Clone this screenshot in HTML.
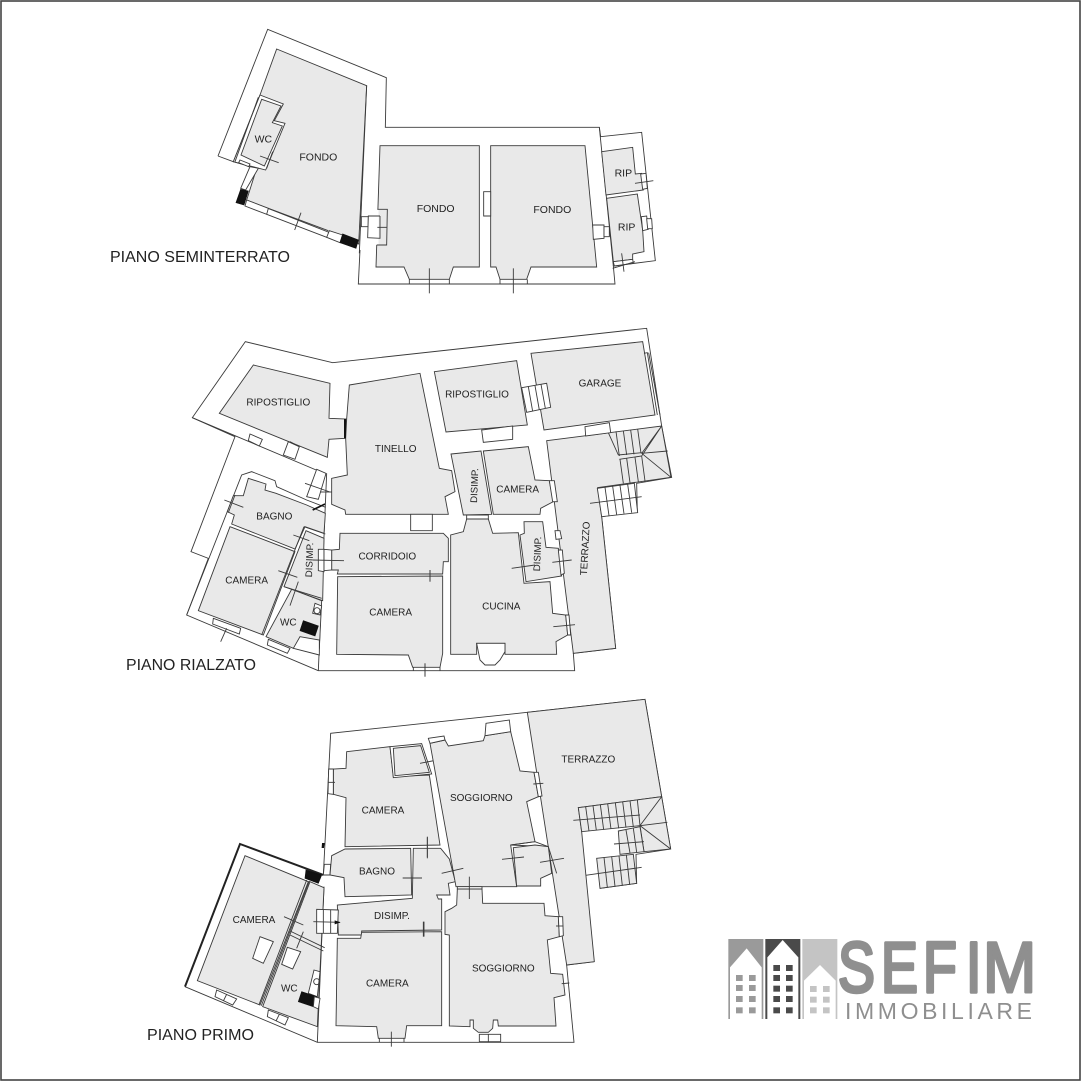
<!DOCTYPE html>
<html><head><meta charset="utf-8"><style>
html,body{margin:0;padding:0;background:#fff;width:1081px;height:1081px;overflow:hidden}
svg{display:block}
.r{fill:#e9e9e9;stroke:#3a3a3a;stroke-width:2.7;stroke-linejoin:miter}
.w{fill:#fff;stroke:#3a3a3a;stroke-width:2.7}
.l{fill:none;stroke:#3a3a3a;stroke-width:2.7}
.k{fill:#111;stroke:#111;stroke-width:2}
.t{font-family:"Liberation Sans",sans-serif;font-size:31.5px;fill:#222;text-anchor:middle}
.p{font-family:"Liberation Sans",sans-serif;font-size:16px;fill:#222}
</style></head><body>
<svg width="1081" height="1081" viewBox="0 0 1081 1081" xmlns="http://www.w3.org/2000/svg">
<rect width="1081" height="1081" fill="#fff"/>
<rect x="1" y="1" width="1079" height="1079" fill="none" stroke="#444" stroke-width="1.6"/>

<!-- PIANO SEMINTERRATO -->
<g transform="translate(200,20) scale(.33333)">
<polyline class="l" points="54,408 203,28 559,173 556,322 1198,322 1202,350 1325,337 1366,722 1240,738 1245,792 475,792 480,690"/>
<line class="l" x1="54" y1="408" x2="100" y2="425"/>
<line class="l" x1="1198" y1="322" x2="1240" y2="738"/>
<polygon class="r" points="230,87 500,197 476,672 140,540 170,445 100,425 180,225"/>
<polygon class="w" points="180,225 250,252 223,302 255,310 197,450 100,425"/>
<polyline class="l" points="175,232 105,425"/>
<polygon class="r" points="185,238 243,258 217,308 247,318 193,438 123,405"/>
<polygon class="w" points="120,420 150,432 146,440 116,428"/>
<polygon class="w" points="150,440 175,445 137,510 122,505"/>
<polygon class="k" points="122,508 145,513 132,555 108,548"/>
<polygon class="w" points="140,540 205,565 200,583 135,558"/>
<line class="l" x1="205" y1="565" x2="385" y2="632"/>
<line class="l" x1="200" y1="583" x2="380" y2="652"/>
<polygon class="w" points="388,632 428,645 420,668 380,652"/>
<polygon class="k" points="428,642 475,660 468,685 420,668"/>
<line class="l" x1="500" y1="197" x2="478" y2="700"/>
<polygon class="r" points="540,377 838,377 838,741 760,741 748,778 628,778 612,741 528,741"/>
<polygon class="w" points="484,590 505,590 505,620 484,620"/>
<rect x="505" y="590" width="35" height="65" fill="#fff"/>
<rect x="524" y="568" width="12" height="107" fill="#fff"/>
<rect x="536" y="568" width="24" height="107" fill="#e9e9e9"/>
<polyline class="l" points="532,568 562,568 560,675 530,675"/>
<polyline class="l" points="540,588 505,588 503,653 540,655 540,588"/>
<polygon class="r" points="872,377 1155,377 1190,741 993,741 980,778 900,778 888,741 872,741"/>
<polygon class="w" points="851,515 872,515 872,588 851,588"/>
<polygon class="w" points="1178,615 1212,615 1212,655 1180,658"/>
<polygon class="w" points="1212,620 1228,620 1228,650 1212,650"/>
<line class="l" x1="628" y1="778" x2="628" y2="792"/><line class="l" x1="748" y1="778" x2="748" y2="792"/>
<line class="l" x1="900" y1="778" x2="900" y2="792"/><line class="l" x1="982" y1="778" x2="982" y2="792"/>
<line class="l" x1="688" y1="745" x2="688" y2="820"/><line class="l" x1="940" y1="745" x2="940" y2="820"/>
<line class="l" x1="532" y1="622" x2="560" y2="622"/>
<line class="l" x1="180" y1="408" x2="236" y2="428"/><line class="l" x1="218" y1="395" x2="200" y2="445"/>
<line class="l" x1="303" y1="578" x2="284" y2="630"/>
<polygon class="r" points="1205,395 1298,382 1306,462 1325,460 1330,510 1218,525"/>
<polygon class="w" points="1322,462 1338,460 1342,505 1328,508"/>
<line class="l" x1="1305" y1="490" x2="1360" y2="482"/>
<polygon class="r" points="1220,535 1312,522 1322,590 1328,630 1332,695 1298,702 1298,718 1240,725"/>
<polygon class="w" points="1324,590 1340,588 1345,628 1328,632"/>
<polygon class="w" points="1340,596 1355,596 1357,626 1343,626"/>
<polygon class="w" points="1240,725 1298,718 1300,730 1243,738"/>
<line class="l" x1="1265" y1="700" x2="1272" y2="755"/><line class="l" x1="1238" y1="745" x2="1305" y2="725"/>
<text class="t" x="190" y="368">WC</text>
<text class="t" x="355" y="421">FONDO</text>
<text class="t" x="707" y="576">FONDO</text>
<text class="t" x="1057" y="579">FONDO</text>
<text class="t" x="1270" y="469">RIP</text>
<text class="t" x="1280" y="631">RIP</text>
</g>
<text class="p" x="110" y="262" textLength="180" lengthAdjust="spacingAndGlyphs">PIANO SEMINTERRATO</text>

<!-- PIANO RIALZATO -->
<g transform="translate(180,320) scale(.33333)">
<polyline class="l" points="415,1052 20,885 85,715 33,695 165,350 37,293 196,65 458,128 1400,25 1445,318 1475,472 1370,490 1372,575 1265,590 1307,985 1180,1000 1184,1052 415,1052"/>
<line class="l" x1="37" y1="293" x2="437" y2="462"/>
<line class="l" x1="415" y1="1052" x2="440" y2="460"/>
<polygon class="r" points="220,135 450,190 447,295 500,297 495,355 447,358 442,412 118,280"/>
<polygon class="w" points="210,342 247,358 238,378 205,362"/>
<polygon class="w" points="325,365 358,380 345,418 310,405"/>
<polygon class="w" points="410,448 438,460 415,538 380,530"/>
<polygon class="r" points="508,195 720,160 778,445 815,452 825,515 795,530 805,583 497,583 495,570 455,553 455,475 502,465 497,355 500,297"/>
<line x1="495" y1="297" x2="495" y2="355" stroke="#111" stroke-width="6"/>
<polyline class="l" points="20,885 185,465 215,455 285,482 290,500 380,540 437,562"/>
<polygon class="r" points="205,475 258,492 255,510 288,520 380,555 436,580 432,640 375,620 345,687 155,612 163,585 142,575 160,527 190,527"/>
<line x1="398" y1="570" x2="435" y2="552" stroke="#111" stroke-width="5"/>
<polygon class="r" points="150,620 345,695 250,945 55,872"/>
<polygon class="r" points="378,632 432,655 428,842 312,800"/>
<polygon class="l" points="372,620 436,642"/>
<line class="l" x1="372" y1="620" x2="245" y2="945"/>
<polygon class="r" points="335,808 425,842 418,985 340,985 258,950"/>
<line class="l" x1="312" y1="800" x2="425" y2="835"/>
<polygon class="w" points="405,850 425,858 420,885 398,880"/>
<circle class="l" cx="411" cy="872" r="9"/>
<polygon class="k" points="370,902 415,918 405,948 360,932"/>
<polygon class="w" points="360,950 418,960 418,1005 340,985"/>
<polygon class="w" points="100,895 182,925 178,942 98,912"/>
<polygon class="w" points="265,958 330,985 322,1000 262,975"/>
<polygon class="r" points="480,640 790,640 805,655 805,725 790,725 788,762 472,762 475,750 455,750 455,690 478,688"/>
<polygon class="w" points="415,688 432,688 432,755 415,752"/>
<polygon class="w" points="432,688 455,690 455,750 432,752"/>
<polygon class="w" points="692,583 757,583 757,632 692,632"/>
<polygon class="r" points="473,770 788,768 788,1000 780,1042 698,1042 685,1005 470,1003"/>
<line class="l" x1="700" y1="1042" x2="700" y2="1052"/><line class="l" x1="780" y1="1042" x2="780" y2="1052"/>
<line class="l" x1="735" y1="1030" x2="735" y2="1070"/><line class="l" x1="750" y1="750" x2="750" y2="785"/>
<line class="l" x1="398" y1="720" x2="492" y2="722"/>
<line class="l" x1="133" y1="540" x2="190" y2="562"/><line class="l" x1="165" y1="525" x2="145" y2="578"/>
<line class="l" x1="340" y1="645" x2="388" y2="662"/>
<line class="l" x1="295" y1="752" x2="352" y2="772"/><line class="l" x1="355" y1="785" x2="330" y2="857"/>
<line class="l" x1="122" y1="965" x2="140" y2="925"/>
<line class="l" x1="375" y1="490" x2="450" y2="516"/><line class="l" x1="420" y1="516" x2="455" y2="516"/>
<line class="l" x1="330" y1="365" x2="358" y2="380"/>
<g transform="translate(720,0)">
<polygon class="r" points="380,362 725,318 753,472 533,503 545,590 587,985 460,1000"/>
<polygon class="w" points="495,320 568,308 572,338 497,348"/>
<polygon class="w" points="532,505 643,490 653,578 545,590"/>
<path class="l" d="M555,502 L567,587 M578,499 L590,584 M600,496 L612,581 M623,493 L635,578 M510,550 L665,530"/>
<path class="l" d="M565,338 L595,405 M588,334 L598,408 M610,332 L620,405 M632,330 L642,403 M653,327 L663,400 M595,405 L665,398 M598,418 L665,408 L725,318 M665,400 L725,318 M665,400 L753,472 M665,400 L743,393 M600,418 L610,490 M620,415 L630,488 M645,412 L655,485 M665,408 L675,483"/>
<polygon class="r" points="43,155 290,122 322,315 78,336"/>
<polygon class="w" points="185,330 278,318 278,358 190,367"/>
<polygon class="r" points="333,100 668,65 705,285 372,330"/>
<polygon class="w" points="305,203 380,190 392,262 320,277"/>
<path class="l" d="M325,200 L338,274 M345,197 L358,270 M363,193 L376,265"/>
<polyline class="l" points="672,100 682,98 712,285"/>
<line class="l" x1="686" y1="98" x2="720" y2="285"/>
<polygon class="r" points="93,402 183,393 215,583 130,585"/>
<polygon class="r" points="190,393 325,380 345,480 388,482 400,545 362,565 360,583 220,583"/>
<polygon class="w" points="388,482 403,482 412,545 398,545"/>
<polygon class="w" points="405,632 420,632 425,656 408,658"/>
<polygon class="r" points="130,635 140,597 205,597 218,640 295,638 312,790 390,785 398,880 437,885 443,945 408,965 410,1003 255,1003 255,970 170,970 170,1003 92,1003 92,645"/>
<polygon class="w" points="140,585 205,585 205,597 140,597"/>
<polygon class="w" points="170,970 255,970 255,995 240,1020 225,1035 195,1035 180,1020 175,995"/>
<polygon class="w" points="437,885 447,885 452,945 443,945"/>
<polygon class="r" points="312,605 368,605 378,682 415,685 425,768 318,785 300,645 313,640"/>
<polygon class="w" points="415,690 427,690 433,760 423,765"/>
<line class="l" x1="275" y1="745" x2="345" y2="735"/><line class="l" x1="397" y1="727" x2="455" y2="720"/>
<line class="l" x1="400" y1="920" x2="465" y2="914"/>
<line class="l" x1="30" y1="750" x2="30" y2="785"/><line class="l" x1="15" y1="1030" x2="15" y2="1070"/>
<text class="t" x="171" y="233" style="font-size:30px">RIPOSTIGLIO</text>
<text class="t" x="540" y="199" style="font-size:30px">GARAGE</text>
<text class="t" x="293" y="518" style="font-size:30px">CAMERA</text>
<text class="t" x="244" y="869" style="font-size:30px">CUCINA</text>
<text class="t" transform="translate(173,497) rotate(-88)" style="font-size:29px">DISIMP.</text>
<text class="t" transform="translate(362,702) rotate(-88)" style="font-size:29px">DISIMP.</text>
<text class="t" transform="translate(505,686) rotate(-87)" style="font-size:30px">TERRAZZO</text>
</g>
<text class="t" x="295" y="256" style="font-size:30px">RIPOSTIGLIO</text>
<text class="t" x="647" y="396" style="font-size:30px">TINELLO</text>
<text class="t" x="283" y="599" style="font-size:30px">BAGNO</text>
<text class="t" x="200" y="791" style="font-size:30px">CAMERA</text>
<text class="t" transform="translate(398,720) rotate(-88)" style="font-size:29px">DISIMP.</text>
<text class="t" x="325" y="917" style="font-size:30px">WC</text>
<text class="t" x="622" y="719" style="font-size:30px">CORRIDOIO</text>
<text class="t" x="632" y="886" style="font-size:30px">CAMERA</text>
</g>
<text class="p" x="126" y="670" textLength="130" lengthAdjust="spacingAndGlyphs">PIANO RIALZATO</text>

<!-- PIANO PRIMO -->
<g transform="translate(180,695) scale(.33333)">
<polyline class="l" points="430,540 452,115 1042,52 1395,13 1445,305 1472,462 1368,478 1370,565 1260,580"/>
<polyline class="l" points="1243,800 1160,810 1182,1042 412,1042 15,875"/>
<line class="l" x1="412" y1="1042" x2="432" y2="575"/>
<polyline points="15,875 180,447 430,540" fill="none" stroke="#222" stroke-width="6"/>
<polygon class="r" points="195,482 385,560 240,930 52,857"/>
<polygon class="r" points="390,560 432,578 412,995 248,935"/>
<line class="l" x1="388" y1="558" x2="244" y2="932"/><line class="l" x1="380" y1="555" x2="237" y2="929"/>
<line class="l" x1="330" y1="708" x2="434" y2="758"/><line class="l" x1="330" y1="720" x2="430" y2="768"/>
<polygon class="w" points="240,725 280,740 250,805 218,790"/>
<polygon class="w" points="322,757 362,770 338,822 305,808"/>
<polygon class="k" points="378,525 425,540 415,565 375,550"/>
<polygon class="w" points="402,825 420,830 412,905 385,895"/>
<circle class="l" cx="410" cy="860" r="9"/>
<polygon class="k" points="365,890 410,905 400,935 355,920"/>
<polygon class="w" points="403,905 420,910 415,942 400,935"/>
<polygon class="w" points="110,885 170,912 158,930 105,905"/>
<line class="l" x1="140" y1="898" x2="130" y2="918"/>
<polygon class="w" points="265,945 325,968 315,990 262,965"/>
<line class="l" x1="298" y1="958" x2="288" y2="978"/>
<line class="l" x1="312" y1="665" x2="370" y2="690"/><line class="l" x1="370" y1="710" x2="350" y2="760"/>
<polygon class="r" points="500,170 630,155 640,245 748,240 780,450 495,455 498,308 460,298 460,222 498,220"/>
<polygon class="w" points="630,155 725,146 755,237 640,248"/>
<polygon class="r" points="640,160 722,152 748,232 645,242"/>
<polygon class="w" points="446,222 460,222 460,298 444,296"/>
<polygon class="w" points="433,508 452,508 450,540 430,540"/>
<polygon class="r" points="700,460 782,460 808,492 826,560 805,565 810,600 770,600 775,612 785,612 785,705 545,708 545,720 475,720 472,630 697,610"/>
<polygon class="r" points="455,482 495,462 692,460 695,600 495,605 492,548 450,540"/>
<polygon class="r" points="472,730 542,730 545,712 785,710 785,992 680,992 675,1030 595,1030 590,995 468,992"/>
<line class="l" x1="598" y1="1030" x2="598" y2="1042"/><line class="l" x1="672" y1="1030" x2="672" y2="1042"/>
<polygon class="w" points="410,643 475,645 472,715 410,715"/>
<path class="l" d="M430,644 V715 M452,645 V715"/>
<line class="l" x1="400" y1="680" x2="480" y2="682"/>
<polygon points="464,676 482,682 464,688" fill="#111"/>
<line class="l" x1="742" y1="425" x2="742" y2="487"/><line class="l" x1="668" y1="549" x2="726" y2="549"/>
<line class="l" x1="732" y1="680" x2="732" y2="725"/><line class="l" x1="634" y1="1010" x2="634" y2="1055"/>
<line class="l" x1="445" y1="262" x2="465" y2="262"/><line class="l" x1="720" y1="205" x2="772" y2="195"/>
<polygon class="k" points="427,445 433,445 431,458 426,458"/>
<g transform="translate(720,0)">
<polygon class="r" points="322,52 675,13 725,305 475,338 485,410 523,800 440,810"/>
<polygon class="r" points="475,338 725,305 752,462 672,470 660,392 485,410"/>
<polygon class="r" points="595,408 660,395 672,470 600,478"/>
<polygon class="r" points="530,490 640,478 650,565 540,580"/>
<path class="l" d="M497,335 L507,408 M519,332 L529,406 M541,329 L551,404 M563,326 L573,402 M586,323 L596,400 M608,320 L618,398 M630,317 L640,396 M652,314 L660,392 M460,376 L660,360 M660,392 L725,305 M660,392 L752,462 M660,392 L742,382"/>
<path class="l" d="M618,405 L630,474 M640,400 L650,472 M582,447 L672,440 M552,487 L562,577 M575,484 L585,574 M597,482 L607,572 M619,479 L629,569 M497,541 L665,517"/>
<polygon class="r" points="30,145 75,135 85,153 190,137 195,122 272,110 300,228 342,232 355,305 320,320 345,440 272,450 290,575 108,575"/>
<polygon class="w" points="25,130 72,123 75,135 30,145"/>
<polygon class="w" points="198,85 268,75 272,110 195,122"/>
<polygon class="w" points="342,232 355,232 366,303 355,305"/>
<line class="l" x1="340" y1="267" x2="370" y2="265"/>
<polygon class="l" points="272,450 345,440 385,455"/>
<polygon class="r" points="280,458 345,450 385,455 395,535 362,550 362,573 290,573"/>
<line class="l" x1="385" y1="455" x2="410" y2="535"/>
<line class="l" x1="246" y1="493" x2="312" y2="486"/><line class="l" x1="360" y1="502" x2="432" y2="490"/>
<polygon class="r" points="112,582 186,582 188,625 372,625 375,662 415,665 418,725 382,735 392,835 428,838 435,900 402,908 408,993 235,993 233,975 220,975 218,1000 205,1012 175,1012 160,1000 160,975 150,975 150,995 88,993 88,720 75,718 75,650 95,640 110,630"/>
<polygon class="w" points="112,575 186,575 186,582 112,582"/>
<polygon class="w" points="415,665 428,665 430,722 418,725"/>
<polygon class="w" points="178,1018 242,1018 242,1040 178,1040"/>
<line class="l" x1="205" y1="1018" x2="205" y2="1040"/>
<line class="l" x1="148" y1="545" x2="148" y2="612"/>
<line class="l" x1="22" y1="427" x2="22" y2="490"/>
<line class="l" x1="65" y1="535" x2="130" y2="520"/>
<line class="l" x1="10" y1="680" x2="10" y2="725"/>
<line class="l" x1="408" y1="693" x2="430" y2="693"/><line class="l" x1="425" y1="866" x2="448" y2="864"/>
<text class="t" x="505" y="202" style="font-size:30px">TERRAZZO</text>
<text class="t" x="184" y="318" style="font-size:30px">SOGGIORNO</text>
<text class="t" x="250" y="830" style="font-size:30px">SOGGIORNO</text>
</g>
<text class="t" x="222" y="684" style="font-size:30px">CAMERA</text>
<text class="t" x="328" y="889" style="font-size:30px">WC</text>
<text class="t" x="609" y="356" style="font-size:30px">CAMERA</text>
<text class="t" x="591" y="539" style="font-size:30px">BAGNO</text>
<text class="t" x="636" y="672" style="font-size:30px">DISIMP.</text>
<text class="t" x="622" y="875" style="font-size:30px">CAMERA</text>
</g>
<text class="p" x="147" y="1040" textLength="107" lengthAdjust="spacingAndGlyphs">PIANO PRIMO</text>

<!-- LOGO -->
<g transform="translate(720,930) scale(.33333)">
<rect x="25" y="27" width="105" height="240" fill="#9a9a9a"/>
<polygon points="30,112 80,55 125,112 125,267 30,267" fill="#fff"/>
<rect x="136" y="27" width="105" height="240" fill="#4a4a4a"/>
<polygon points="142,82 188,30 235,82 235,267 142,267" fill="#fff"/>
<rect x="247" y="27" width="105" height="240" fill="#c4c4c4"/>
<polygon points="252,152 300,105 347,152 347,267 252,267" fill="#fff"/>
<g fill="#9a9a9a"><rect x="48" y="135" width="20" height="18"/><rect x="87" y="135" width="20" height="18"/><rect x="48" y="165" width="20" height="18"/><rect x="87" y="165" width="20" height="18"/><rect x="48" y="198" width="20" height="18"/><rect x="87" y="198" width="20" height="18"/><rect x="48" y="232" width="20" height="18"/><rect x="87" y="232" width="20" height="18"/></g>
<g fill="#4a4a4a"><rect x="160" y="105" width="20" height="18"/><rect x="198" y="105" width="20" height="18"/><rect x="160" y="135" width="20" height="18"/><rect x="198" y="135" width="20" height="18"/><rect x="160" y="167" width="20" height="18"/><rect x="198" y="167" width="20" height="18"/><rect x="160" y="198" width="20" height="18"/><rect x="198" y="198" width="20" height="18"/><rect x="160" y="232" width="20" height="18"/><rect x="198" y="232" width="20" height="18"/></g>
<g fill="#c4c4c4"><rect x="270" y="168" width="20" height="18"/><rect x="309" y="168" width="20" height="18"/><rect x="270" y="200" width="20" height="18"/><rect x="309" y="200" width="20" height="18"/><rect x="270" y="232" width="20" height="18"/><rect x="309" y="232" width="20" height="18"/></g>
</g>
<g font-family="Liberation Sans, sans-serif" font-size="71" fill="#8f8f8f" stroke="#8f8f8f" stroke-linejoin="round">
<text transform="translate(838,992) scale(.78,1)" stroke-width="3.5">S</text>
<text transform="translate(881,992) scale(.78,1)" stroke-width="3.5">E</text>
<text transform="translate(923,992) scale(.78,1)" stroke-width="3.5">F</text>
<text transform="translate(966,992) scale(.78,1)" stroke-width="3.5">I</text>
<text transform="translate(983,992) scale(.9,1)" stroke-width="3">M</text>
</g>
<text x="845" y="1019" textLength="187" font-family="Liberation Sans, sans-serif" font-size="23" fill="#8f8f8f">IMMOBILIARE</text>
</svg>
</body></html>
